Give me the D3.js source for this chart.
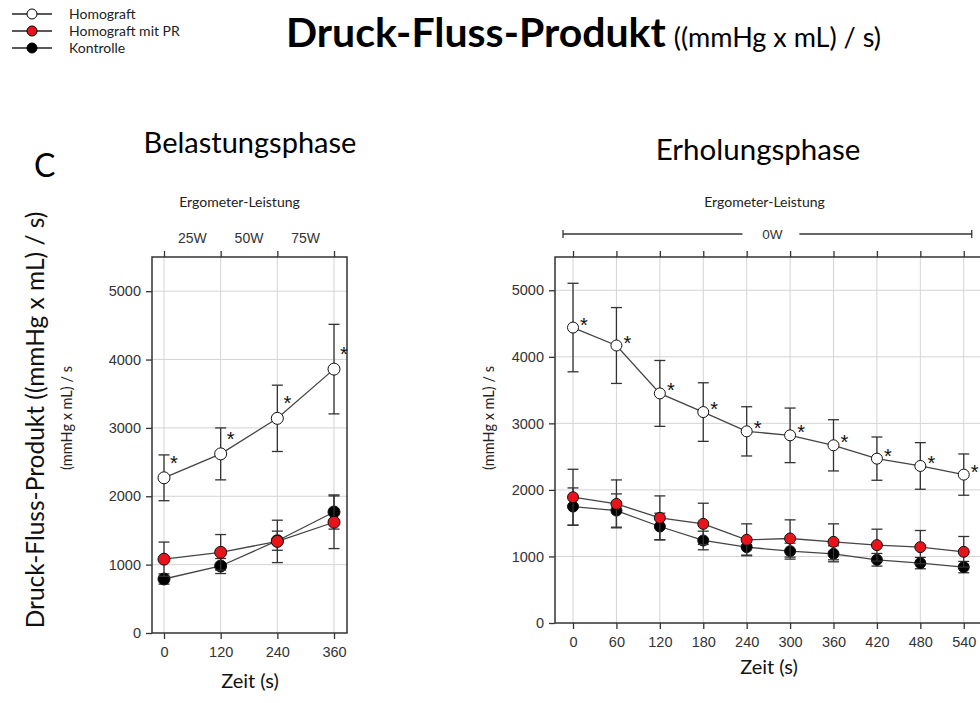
<!DOCTYPE html>
<html>
<head>
<meta charset="utf-8">
<script src="https://cdn.jsdelivr.net/npm/d3@7"></script>
<style>
  html, body { margin: 0; padding: 0; background: #fff; }
  svg { display: block; }
</style>
</head>
<body>
<svg id="chart" width="980" height="703"></svg>
<script>
// ---- Data: Druck-Fluss-Produkt, mean and error (mmHg x mL / s) ----
const seriesNames = ["Homograft", "Homograft mit PR", "Kontrolle"];
const seriesFill = ["#ffffff", "#e8141b", "#000000"];

// Belastungsphase (exercise)
const loadTimes = [0, 120, 240, 360];
const loadPower = ["25W", "50W", "75W"];
const loadHomograft = [2270, 2620, 3140, 3860];
const loadHomograftErr = [335, 380, 485, 655];
const loadPR = [1080, 1180, 1340, 1620];
const loadPRErr = [250, 260, 310, 385];
const loadKontrolle = [790, 980, 1350, 1770];
const loadKontrolleErr = [75, 110, 140, 250];
const loadStars = [true, true, true, true];

// Erholungsphase (recovery)
const recTimes = [0, 60, 120, 180, 240, 300, 360, 420, 480, 540];
const recPower = "0W";
const recHomograft = [4440, 4170, 3450, 3170, 2880, 2820, 2670, 2470, 2360, 2230];
const recHomograftErr = [665, 570, 495, 440, 370, 410, 385, 325, 350, 310];
const recPR = [1890, 1790, 1580, 1490, 1250, 1270, 1220, 1170, 1140, 1070];
const recPRErr = [420, 360, 330, 310, 240, 280, 270, 240, 250, 230];
const recKontrolle = [1750, 1690, 1450, 1240, 1140, 1080, 1040, 950, 900, 840];
const recKontrolleErr = [280, 250, 200, 140, 120, 120, 120, 95, 85, 85];
const recStars = [true, true, true, true, true, true, true, true, true, true];

const yTicks = [0, 1000, 2000, 3000, 4000, 5000];

const svg = d3.select("#chart");
const calibri = "Lato, 'Open Sans', sans-serif";
const arial = "'Liberation Sans', Arial, sans-serif";

// ---- Header: legend and title ----
const legend = svg.append("g").attr("class", "legend");
seriesNames.forEach((name, i) => {
  const y = 14 + i * 17;
  legend.append("line").attr("x1", 12).attr("x2", 52).attr("y1", y).attr("y2", y)
    .attr("stroke", "#222").attr("stroke-width", 1.3);
  legend.append("circle").attr("cx", 32).attr("cy", y).attr("r", 5)
    .attr("fill", seriesFill[i]).attr("stroke", "#000").attr("stroke-width", 1);
  legend.append("text").attr("x", 69).attr("y", y + 5).text(name)
    .attr("font-family", calibri).attr("font-size", 14).attr("fill", "#222");
});

const title = svg.append("text").attr("x", 286).attr("y", 47)
  .attr("font-family", calibri).attr("fill", "#000");
title.append("tspan").attr("font-weight", "bold").attr("font-size", 41).text("Druck-Fluss-Produkt");
title.append("tspan").attr("font-size", 27).attr("dx", 8).text("((mmHg x mL) / s)");

svg.append("text").attr("x", 34).attr("y", 177).text("C")
  .attr("font-family", calibri).attr("font-size", 32).attr("fill", "#000");
svg.append("text").attr("x", 250).attr("y", 153).attr("text-anchor", "middle").text("Belastungsphase")
  .attr("font-family", calibri).attr("font-size", 29).attr("fill", "#000");
svg.append("text").attr("x", 758).attr("y", 160).attr("text-anchor", "middle").text("Erholungsphase")
  .attr("font-family", calibri).attr("font-size", 29.5).attr("fill", "#000");

svg.append("text")
  .attr("transform", "translate(44,420) rotate(-90)")
  .attr("text-anchor", "middle")
  .attr("font-family", calibri).attr("font-size", 24.5).attr("fill", "#111")
  .text("Druck-Fluss-Produkt ((mmHg x mL) / s)");

// ---- Panel drawing ----
function drawPanel(cfg) {
  const g = svg.append("g");
  const x = d3.scaleLinear().domain(cfg.xDomain).range([cfg.left, cfg.right]);
  const y = d3.scaleLinear().domain([0, 5500]).range([cfg.bottom, cfg.top]);

  // grid
  g.append("g").selectAll("line").data(cfg.times).join("line")
    .attr("x1", d => x(d)).attr("x2", d => x(d))
    .attr("y1", cfg.top).attr("y2", cfg.bottom)
    .attr("stroke", "#d4d4d4").attr("stroke-width", 1);
  g.append("g").selectAll("line").data(yTicks.filter(d => d > 0)).join("line")
    .attr("x1", cfg.left).attr("x2", cfg.right)
    .attr("y1", d => y(d)).attr("y2", d => y(d))
    .attr("stroke", "#d4d4d4").attr("stroke-width", 1);

  // frame
  g.append("rect").attr("x", cfg.left).attr("y", cfg.top)
    .attr("width", cfg.right - cfg.left).attr("height", cfg.bottom - cfg.top)
    .attr("fill", "none").attr("stroke", "#333").attr("stroke-width", 1.5);

  // axes
  const styleAxis = sel => {
    sel.select(".domain").remove();
    sel.selectAll(".tick line").attr("stroke", "#333").attr("stroke-width", 1.3);
    sel.selectAll(".tick text").attr("font-family", arial).attr("font-size", 14.5).attr("fill", "#333");
  };
  g.append("g").attr("transform", `translate(${cfg.left},0)`)
    .call(d3.axisLeft(y).tickValues(yTicks).tickSize(6).tickPadding(5).tickFormat(d3.format("d")))
    .call(styleAxis);
  g.append("g").attr("transform", `translate(0,${cfg.bottom})`)
    .call(d3.axisBottom(x).tickValues(cfg.times).tickSize(6).tickPadding(8).tickFormat(d3.format("d")))
    .call(styleAxis);
  g.append("g").attr("transform", `translate(0,${cfg.top})`)
    .call(d3.axisTop(x).tickValues(cfg.times).tickSize(6).tickFormat(""))
    .call(styleAxis);

  // axis titles
  g.append("text").attr("x", cfg.xTitleX).attr("y", cfg.xTitleY).attr("text-anchor", "middle")
    .attr("font-family", calibri).attr("font-size", 20).attr("fill", "#111").text("Zeit (s)");
  g.append("text").attr("x", (cfg.left + cfg.right) / 2 + cfg.ergoDx).attr("y", 207).attr("text-anchor", "middle")
    .attr("font-family", calibri).attr("font-size", 14).attr("fill", "#222").text("Ergometer-Leistung");
  g.append("text").attr("transform", `translate(${cfg.yTitleX},${cfg.yTitleY}) rotate(-90)`)
    .attr("text-anchor", "middle")
    .attr("font-family", calibri).attr("font-size", 14.5).attr("fill", "#222").text("(mmHg x mL) / s");

  cfg.drawPower(g, x);

  // series: Kontrolle first, Homograft on top
  const series = [
    { mean: cfg.kontrolle, err: cfg.kontrolleErr, fill: seriesFill[2] },
    { mean: cfg.pr, err: cfg.prErr, fill: seriesFill[1] },
    { mean: cfg.homograft, err: cfg.homograftErr, fill: seriesFill[0] }
  ];
  const line = d3.line().x(d => x(d.t)).y(d => y(d.v));
  series.forEach(s => {
    const pts = cfg.times.map((t, i) => ({ t, v: s.mean[i], e: s.err[i] }));
    const eb = g.append("g");
    eb.selectAll("line.bar").data(pts).join("line").attr("class", "bar")
      .attr("x1", d => x(d.t)).attr("x2", d => x(d.t))
      .attr("y1", d => y(d.v - d.e)).attr("y2", d => y(d.v + d.e))
      .attr("stroke", "#333").attr("stroke-width", 1.3);
    [1, -1].forEach(sign => {
      eb.selectAll(null).data(pts).join("line")
        .attr("x1", d => x(d.t) - 5.5).attr("x2", d => x(d.t) + 5.5)
        .attr("y1", d => y(d.v + sign * d.e)).attr("y2", d => y(d.v + sign * d.e))
        .attr("stroke", "#333").attr("stroke-width", 1.3);
    });
    g.append("path").datum(pts).attr("d", line)
      .attr("fill", "none").attr("stroke", "#444").attr("stroke-width", 1.3);
    g.append("g").selectAll("circle").data(pts).join("circle")
      .attr("cx", d => x(d.t)).attr("cy", d => y(d.v)).attr("r", cfg.r)
      .attr("fill", s.fill).attr("stroke", "#111").attr("stroke-width", 1);
  });

  // significance stars on Homograft
  const starPts = cfg.times.map((t, i) => ({ t, v: cfg.homograft[i], on: cfg.stars[i] })).filter(d => d.on);
  g.append("g").selectAll("text").data(starPts)
    .join("text")
    .attr("x", d => x(d.t) + cfg.starDx).attr("y", d => y(d.v) + cfg.starDy)
    .attr("text-anchor", "middle")
    .attr("font-family", arial).attr("font-size", 20).attr("fill", "#111").text("*");
}

drawPanel({
  times: loadTimes, xDomain: [-25.4, 387.5],
  left: 152, right: 347, top: 257, bottom: 633, r: 6,
  homograft: loadHomograft, homograftErr: loadHomograftErr,
  pr: loadPR, prErr: loadPRErr, kontrolle: loadKontrolle, kontrolleErr: loadKontrolleErr,
  stars: loadStars, starDx: 10, starDy: -8,
  xTitleX: 250, xTitleY: 688, yTitleX: 72, yTitleY: 418, ergoDx: -10,
  drawPower: (g, x) => {
    loadPower.forEach((p, i) => {
      const mid = (loadTimes[i] + loadTimes[i + 1]) / 2;
      g.append("text").attr("x", x(mid)).attr("y", 243).attr("text-anchor", "middle")
        .attr("font-family", arial).attr("font-size", 14).attr("fill", "#333").text(p);
    });
  }
});

drawPanel({
  times: recTimes, xDomain: [-24.9, 568],
  left: 555, right: 984, top: 257, bottom: 623, r: 5.5,
  homograft: recHomograft, homograftErr: recHomograftErr,
  pr: recPR, prErr: recPRErr, kontrolle: recKontrolle, kontrolleErr: recKontrolleErr,
  stars: recStars, starDx: 11, starDy: 4,
  xTitleX: 769, xTitleY: 674, yTitleX: 494, yTitleY: 418, ergoDx: -5,
  drawPower: (g, x) => {
    const x0 = x(recTimes[0]) - 10, x1 = x(recTimes[recTimes.length - 1]) + 8;
    const xm = (x0 + x1) / 2 + 5;
    const yb = 234;
    g.append("text").attr("x", xm).attr("y", yb + 5).attr("text-anchor", "middle")
      .attr("font-family", arial).attr("font-size", 13.5).attr("fill", "#333").text(recPower);
    [[x0, xm - 30], [xm + 27, x1]].forEach(([a, b]) => {
      g.append("line").attr("x1", a).attr("x2", b).attr("y1", yb).attr("y2", yb)
        .attr("stroke", "#333").attr("stroke-width", 1.3);
    });
    [x0, x1].forEach(v => g.append("line").attr("x1", v).attr("x2", v)
      .attr("y1", yb - 4).attr("y2", yb + 4).attr("stroke", "#333").attr("stroke-width", 1.3));
  }
});
</script>
</body>
</html>
